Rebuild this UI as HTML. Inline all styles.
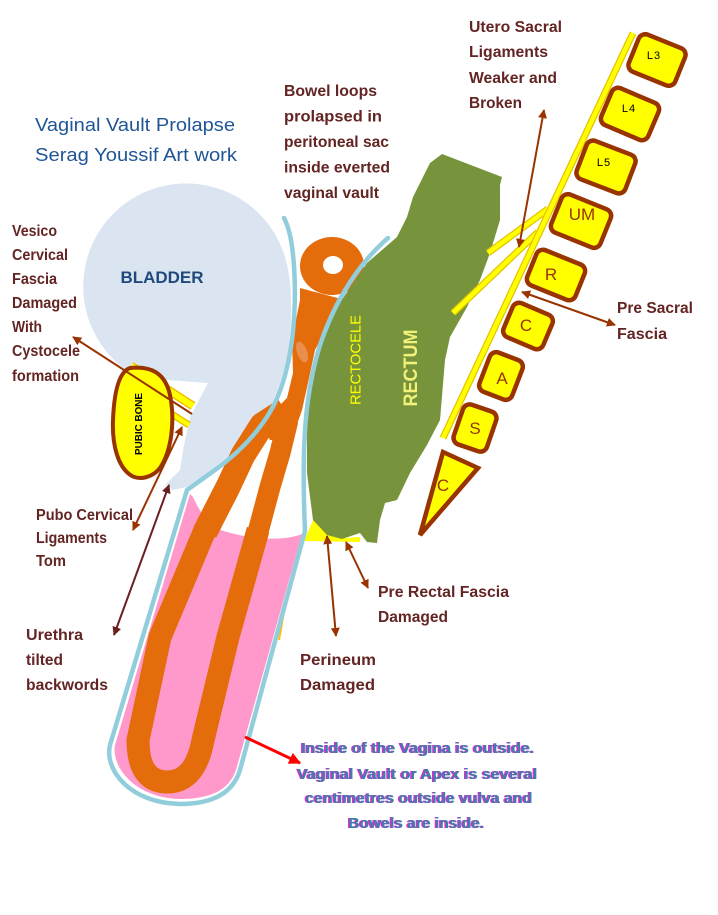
<!DOCTYPE html>
<html><head><meta charset="utf-8"><style>
html,body{margin:0;padding:0;background:#fff;}
svg{display:block;}
.lb{font-family:"Liberation Sans",Arial,sans-serif;font-weight:bold;font-size:16px;fill:#632523;}
.ti{font-family:"Liberation Sans",Arial,sans-serif;font-size:18px;fill:#1f5597;}
.bt{font-family:"Liberation Sans",Arial,sans-serif;font-weight:bold;font-size:15px;}
.vl{font-family:"Liberation Sans",Arial,sans-serif;font-size:17px;fill:#993300;}
.vs{font-family:"Liberation Sans",Arial,sans-serif;font-size:11px;fill:#000;}
</style></head><body>
<svg width="718" height="915" viewBox="0 0 718 915" xmlns="http://www.w3.org/2000/svg">
<defs>
<marker id="ab" viewBox="0 0 10 10" refX="9" refY="5" markerWidth="4.5" markerHeight="4.5" orient="auto-start-reverse"><path d="M0,0 L10,5 L0,10 z" fill="#993300"/></marker>
<marker id="ad" viewBox="0 0 10 10" refX="9" refY="5" markerWidth="4.5" markerHeight="4.5" orient="auto-start-reverse"><path d="M0,0 L10,5 L0,10 z" fill="#6b1f1f"/></marker>
<marker id="ar" viewBox="0 0 10 10" refX="9" refY="5" markerWidth="4" markerHeight="4" orient="auto"><path d="M0,0 L10,5 L0,10 z" fill="#ff0000"/></marker>
</defs>

<!-- Title -->
<text class="ti" x="35" y="131" textLength="200" lengthAdjust="spacingAndGlyphs">Vaginal Vault Prolapse</text>
<text class="ti" x="35" y="161" textLength="202" lengthAdjust="spacingAndGlyphs">Serag Youssif Art work</text>

<!-- Bladder -->
<path d="M139,378 A103,103 0 1 1 285.5,259 C292,280 293,320 288,352 C282,385 270,410 258,428 C245,447 225,465 200,478 L187,487 L172,490 L166,484 L180,470 L184,445 L190,417 L208,383 Z" fill="#dbe5f1"/>
<text x="162" y="283" text-anchor="middle" font-family="Liberation Sans, Arial, sans-serif" font-weight="bold" font-size="17" fill="#1f497d" textLength="83" lengthAdjust="spacingAndGlyphs">BLADDER</text>

<!-- Pink vagina tube -->
<path d="M190,494 L115,745 C111,767 135,798 180,799 C211,799 229,790 236,770 L302,534 C285,541 250,541 215,528 C205,520 198,508 193,497 Z" fill="#ff99cc"/>

<!-- Orange bowel loops -->
<path d="M205,530 L160,637 L138,740 Q138,781 166,782 Q195,783 203,740 L228,637 L258,530" fill="none" stroke="#e46c0a" stroke-width="23" stroke-linejoin="round"/>
<path d="M205,532 L228,487 L243,455 L262,425 L285,410" fill="none" stroke="#e46c0a" stroke-width="25" stroke-linejoin="round"/>
<path d="M258,532 L270,487 L280,453 L288,420" fill="none" stroke="#e46c0a" stroke-width="21" stroke-linejoin="round"/>
<polygon points="262,425 275,410 287,398 293,373 292,340 300,300 300,288 345,300 327,327 315,350 308,383 302,410 295,430 285,440 270,440" fill="#e46c0a"/>
<path d="M300,266 a32,29 0 1,0 64,0 a32,29 0 1,0 -64,0 Z M323,265 a10,9 0 1,0 20,0 a10,9 0 1,0 -20,0 Z" fill="#e46c0a" fill-rule="evenodd"/>
<ellipse cx="302" cy="352" rx="5" ry="11" transform="rotate(-20 302 352)" fill="#e98e4e"/>

<!-- Yellow under rectum -->
<polygon points="304,541 314,518 326,534 345,538 360,537 360,542" fill="#ffff00"/>
<line x1="287" y1="595" x2="279" y2="640" stroke="#ffc000" stroke-width="2"/>

<!-- Rectum -->
<path d="M442,154 L502,177 L500,185 L500,220 L490,253 L480,280 L467,307 L450,337 L445,360 L440,420 L427,445 L410,473 L397,500 L385,503 L380,520 L377,543 L367,542 L360,533 L342,539 L327,535 L313,520 L307,473 L307,407 L317,357 L337,307 L367,263 L397,237 L407,217 L413,197 L423,177 L430,163 Z" fill="#77933c"/>
<text transform="translate(360.5,360) rotate(-90)" text-anchor="middle" font-family="Liberation Sans, Arial, sans-serif" font-size="15" fill="#ffff00" textLength="90" lengthAdjust="spacingAndGlyphs">RECTOCELE</text>
<text transform="translate(417,368) rotate(-90)" text-anchor="middle" font-family="Liberation Sans, Arial, sans-serif" font-weight="bold" font-size="19" fill="#f2f27a" textLength="77" lengthAdjust="spacingAndGlyphs">RECTUM</text>

<!-- Blue vaginal wall lines -->
<path d="M284,218 C296,240 297,300 292,340 C288,370 280,395 270,412 C258,432 240,452 215,470 L187,490 L110,745 C104,770 130,803 180,804 C213,804 233,793 240,770 L305,531" fill="none" stroke="#92cddc" stroke-width="4.5" stroke-linecap="round" stroke-linejoin="round"/>
<path d="M388,238 C360,262 335,300 320,345 C306,390 301,440 305,531" fill="none" stroke="#92cddc" stroke-width="4.5" stroke-linecap="round"/>

<!-- Utero sacral ligaments & spine band -->
<line x1="548" y1="209" x2="488" y2="253" stroke="#e6c200" stroke-width="7"/>
<line x1="548" y1="209" x2="488" y2="253" stroke="#ffff00" stroke-width="4.5"/>
<line x1="538" y1="232" x2="453" y2="313" stroke="#e6c200" stroke-width="7"/>
<line x1="538" y1="232" x2="453" y2="313" stroke="#ffff00" stroke-width="4.5"/>
<line x1="633" y1="33" x2="443" y2="438" stroke="#e6c200" stroke-width="7"/>
<line x1="633" y1="33" x2="443" y2="438" stroke="#ffff00" stroke-width="4.5"/>

<!-- Vertebrae -->
<g fill="#ffff00" stroke="#993300" stroke-width="4.5">
<rect x="-25" y="-20" width="50" height="40" rx="7" transform="translate(657,60) rotate(22)"/>
<rect x="-25.5" y="-20" width="51" height="40" rx="7" transform="translate(630,114) rotate(23)"/>
<rect x="-26" y="-20.5" width="52" height="41" rx="7" transform="translate(606,167) rotate(21)"/>
<rect x="-26.5" y="-20.5" width="53" height="41" rx="7" transform="translate(581,221) rotate(22)"/>
<rect x="-26" y="-19" width="52" height="38" rx="7" transform="translate(556,275) rotate(22)"/>
<rect x="-21.5" y="-18.5" width="43" height="37" rx="7" transform="translate(528,326) rotate(23)"/>
<rect x="-17.5" y="-21" width="35" height="42" rx="7" transform="translate(501,376) rotate(21)"/>
<rect x="-17.5" y="-21" width="35" height="42" rx="7" transform="translate(475,428) rotate(19)"/>
<polygon points="443,452 478,468 420,535"/>
</g>
<text class="vs" x="654" y="59" text-anchor="middle" letter-spacing="1">L3</text>
<text class="vs" x="629" y="112" text-anchor="middle" letter-spacing="1">L4</text>
<text class="vs" x="604" y="166" text-anchor="middle" letter-spacing="1">L5</text>
<text class="vl" x="582" y="220" text-anchor="middle" font-size="16">UM</text>
<text class="vl" x="551" y="280" text-anchor="middle">R</text>
<text class="vl" x="526" y="331" text-anchor="middle">C</text>
<text class="vl" x="502" y="384" text-anchor="middle">A</text>
<text class="vl" x="475" y="434" text-anchor="middle">S</text>
<text class="vl" x="443" y="491" text-anchor="middle">C</text>

<!-- Pubic bone -->
<line x1="131" y1="366" x2="193" y2="406" stroke="#f0c000" stroke-width="9"/>
<line x1="131" y1="366" x2="193" y2="406" stroke="#ffff00" stroke-width="6"/>
<line x1="170" y1="413" x2="189" y2="425" stroke="#f0c000" stroke-width="7"/>
<line x1="170" y1="413" x2="189" y2="425" stroke="#ffff00" stroke-width="4"/>
<path d="M130,368 C150,366 165,372 170,395 C175,420 172,450 160,468 C152,478 140,480 132,476 C118,468 112,445 113,420 C114,395 118,372 130,368 Z" fill="#ffff00" stroke="#993300" stroke-width="4"/>
<text transform="translate(142,424) rotate(-90)" text-anchor="middle" font-family="Liberation Sans, Arial, sans-serif" font-weight="bold" font-size="10" fill="#000" textLength="62" lengthAdjust="spacingAndGlyphs">PUBIC BONE</text>

<!-- Arrows -->
<g fill="none" stroke-width="2">
<line x1="544" y1="110" x2="519" y2="247" stroke="#993300" marker-start="url(#ab)" marker-end="url(#ab)"/>
<line x1="522" y1="292" x2="615" y2="325" stroke="#993300" marker-start="url(#ab)" marker-end="url(#ab)"/>
<line x1="192" y1="414" x2="73" y2="337" stroke="#993300" marker-end="url(#ab)"/>
<line x1="182" y1="427" x2="133" y2="530" stroke="#993300" marker-start="url(#ab)" marker-end="url(#ab)"/>
<line x1="169" y1="485" x2="114" y2="635" stroke="#6b1f1f" marker-start="url(#ad)" marker-end="url(#ad)"/>
<line x1="327" y1="536" x2="336" y2="636" stroke="#993300" marker-start="url(#ab)" marker-end="url(#ab)"/>
<line x1="346" y1="542" x2="368" y2="588" stroke="#993300" marker-start="url(#ab)" marker-end="url(#ab)"/>
<line x1="245" y1="737" x2="300" y2="763" stroke="#ff0000" stroke-width="3" marker-end="url(#ar)"/>
</g>

<!-- Labels -->
<text class="lb" x="284" y="96" textLength="93" lengthAdjust="spacingAndGlyphs">Bowel loops</text>
<text class="lb" x="284" y="121.5" textLength="98" lengthAdjust="spacingAndGlyphs">prolapsed  in</text>
<text class="lb" x="284" y="147" textLength="105" lengthAdjust="spacingAndGlyphs">peritoneal sac</text>
<text class="lb" x="284" y="172.5" textLength="106" lengthAdjust="spacingAndGlyphs">inside everted</text>
<text class="lb" x="284" y="198" textLength="95" lengthAdjust="spacingAndGlyphs">vaginal vault</text>

<text class="lb" x="469" y="32" textLength="93" lengthAdjust="spacingAndGlyphs">Utero Sacral</text>
<text class="lb" x="469" y="57" textLength="79" lengthAdjust="spacingAndGlyphs">Ligaments</text>
<text class="lb" x="469" y="83" textLength="88" lengthAdjust="spacingAndGlyphs">Weaker and</text>
<text class="lb" x="469" y="108" textLength="53" lengthAdjust="spacingAndGlyphs">Broken</text>

<text class="lb" x="12" y="236" textLength="45" lengthAdjust="spacingAndGlyphs">Vesico</text>
<text class="lb" x="12" y="260" textLength="56" lengthAdjust="spacingAndGlyphs">Cervical</text>
<text class="lb" x="12" y="284" textLength="45" lengthAdjust="spacingAndGlyphs">Fascia</text>
<text class="lb" x="12" y="308" textLength="65" lengthAdjust="spacingAndGlyphs">Damaged</text>
<text class="lb" x="12" y="332" textLength="30" lengthAdjust="spacingAndGlyphs">With</text>
<text class="lb" x="12" y="356" textLength="68" lengthAdjust="spacingAndGlyphs">Cystocele</text>
<text class="lb" x="12" y="381" textLength="67" lengthAdjust="spacingAndGlyphs">formation</text>

<text class="lb" x="36" y="520" textLength="97" lengthAdjust="spacingAndGlyphs">Pubo Cervical</text>
<text class="lb" x="36" y="543" textLength="71" lengthAdjust="spacingAndGlyphs">Ligaments</text>
<text class="lb" x="36" y="566" textLength="30" lengthAdjust="spacingAndGlyphs">Tom</text>

<text class="lb" x="26" y="640" textLength="57" lengthAdjust="spacingAndGlyphs">Urethra</text>
<text class="lb" x="26" y="665" textLength="37" lengthAdjust="spacingAndGlyphs">tilted</text>
<text class="lb" x="26" y="690" textLength="82" lengthAdjust="spacingAndGlyphs">backwords</text>

<text class="lb" x="378" y="597" textLength="131" lengthAdjust="spacingAndGlyphs">Pre Rectal Fascia</text>
<text class="lb" x="378" y="622" textLength="70" lengthAdjust="spacingAndGlyphs">Damaged</text>

<text class="lb" x="300" y="665" textLength="76" lengthAdjust="spacingAndGlyphs">Perineum</text>
<text class="lb" x="300" y="690" textLength="75" lengthAdjust="spacingAndGlyphs">Damaged</text>

<text class="lb" x="617" y="313" textLength="76" lengthAdjust="spacingAndGlyphs">Pre Sacral</text>
<text class="lb" x="617" y="339" textLength="50" lengthAdjust="spacingAndGlyphs">Fascia</text>

<!-- Bottom note -->
<g class="bt" text-anchor="middle" fill="#d32fd3">
<text x="416.5" y="753" textLength="233" lengthAdjust="spacingAndGlyphs">Inside of the Vagina is outside.</text>
<text x="416" y="779" textLength="240" lengthAdjust="spacingAndGlyphs">Vaginal Vault or Apex is several</text>
<text x="417.5" y="803" textLength="227" lengthAdjust="spacingAndGlyphs">centimetres outside vulva and</text>
<text x="415" y="828" textLength="136" lengthAdjust="spacingAndGlyphs">Bowels are inside.</text>
</g>
<g class="bt" text-anchor="middle" fill="#3d7fa8">
<text x="418" y="753" textLength="233" lengthAdjust="spacingAndGlyphs">Inside of the Vagina is outside.</text>
<text x="417.5" y="779" textLength="240" lengthAdjust="spacingAndGlyphs">Vaginal Vault or Apex is several</text>
<text x="419" y="803" textLength="227" lengthAdjust="spacingAndGlyphs">centimetres outside vulva and</text>
<text x="416.5" y="828" textLength="136" lengthAdjust="spacingAndGlyphs">Bowels are inside.</text>
</g>
</svg>
</body></html>
